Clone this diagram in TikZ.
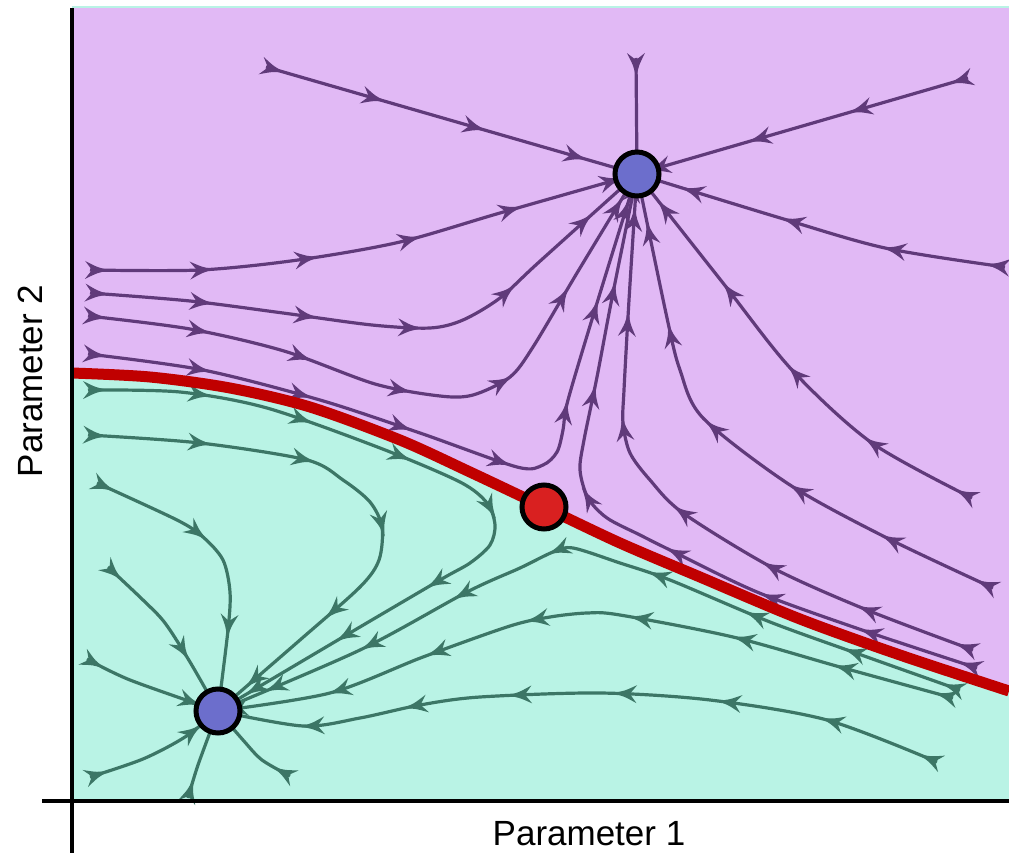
\documentclass[tikz,border=0pt]{standalone}
\usepackage{fontspec}
\setmainfont{Liberation Sans}
\usetikzlibrary{decorations.markings}
\definecolor{purplebg}{RGB}{225,185,245}
\definecolor{tealbg}{RGB}{185,243,229}
\definecolor{purpleline}{RGB}{96,58,122}
\definecolor{tealline}{RGB}{60,118,102}
\definecolor{sepred}{RGB}{192,0,0}
\definecolor{nodeblue}{RGB}{108,110,204}
\definecolor{saddlered}{RGB}{217,32,32}
\newcommand{\flowhead}[1]{\fill[#1] (13pt,0pt) .. controls (1pt,2.5pt) .. (-12pt,9pt) -- (-5pt,0pt) -- (-12pt,-9pt) .. controls (1pt,-2.5pt) .. (13pt,0pt) -- cycle;}
\tikzset{
  flowp/.style={draw=purpleline, line width=3.2pt, postaction={decorate},
    decoration={markings, mark=between positions 7pt and -1pt step 105pt with {\flowhead{purpleline}}}},
  flowt/.style={draw=tealline, line width=3.2pt, postaction={decorate},
    decoration={markings, mark=between positions 7pt and -1pt step 105pt with {\flowhead{tealline}}}},
  fixpt/.style={circle, draw=black, line width=5pt, minimum size=44pt, inner sep=0pt, fill=nodeblue},
  saddlept/.style={circle, draw=black, line width=5pt, minimum size=44pt, inner sep=0pt, fill=saddlered},
  axisline/.style={draw=black, line width=4.5pt},
  axlabel/.style={font=\fontsize{35}{42}\selectfont, inner sep=0pt}
}
\begin{document}
\begin{tikzpicture}[x=1pt,y=-1pt]
\useasboundingbox (0,0) rectangle (1009,853);
\fill[white] (0,0) rectangle (1009,853);
% backgrounds
\fill[tealbg] (72,6) rectangle (1009,801);
\fill[purplebg] (72,8.5) rectangle (1009,801);
\fill[tealbg] plot[smooth] coordinates {(72,373) (150,377) (230,388) (310,407) (400,440) (470,472) (544,507) (620,543) (700,577) (800,619) (900,655) (1009,691)} -- (1009,801) -- (72,801) -- cycle;
% fixed points
\coordinate (ctop) at (637,174);
\coordinate (cbl) at (218,711);
\coordinate (csad) at (544,507);
% purple streamlines
\path[flowp] (266,67) -- (ctop);
\path[flowp] (636,58) -- (ctop);
\path[flowp] (968,78) -- (ctop);
\path[flowp] plot[smooth] coordinates {(1005,267) (885,248) (777,217) (ctop)};
\path[flowp] plot[smooth] coordinates {(972,498) (872,443) (792,370) (723,283) (ctop)};
\path[flowp] plot[smooth] coordinates {(993,588) (887,538) (790,485) (703,418) (680,370) (667,318) (ctop)};
\path[flowp] plot[smooth] coordinates {(973,650) (867,610) (773,568) (683,513) (650,480) (630,453) (623,423) (624,390) (629,300) (ctop)};
\path[flowp] plot[smooth] coordinates {(977,668) (862,630) (757,592) (670,550) (640,535) (607,518) (588,498) (580,470) (584,440) (597,377) (612,298) (ctop)};
\path[flowp] plot[smooth] coordinates {(88,354) (203,370) (320,400) (420,433) (517,467) (543,465) (557,452) (563,430) (568,400) (597,303) (ctop)};
\path[flowp] plot[smooth] coordinates {(88,316) (190,329) (284,351) (375,384) (440,396) (473,395) (510,377) (533,347) (577,273) (ctop)};
\path[flowp] plot[smooth] coordinates {(90,293) (190,301) (283,313) (372,325) (430,328) (463,320) (500,298) (538,263) (ctop)};
\path[flowp] plot[smooth] coordinates {(90,270) (200,270) (298,260) (400,242) (500,213) (ctop)};
% teal streamlines
\path[flowt] plot[smooth] coordinates {(88,390) (180,392) (267,408) (380,448) (460,482) (487,503) (495,525) (490,545) (470,563) (440,580) (343,637) (cbl)};
\path[flowt] plot[smooth] coordinates {(88,435) (200,443) (307,460) (343,480) (370,502) (382,527) (379,560) (360,587) (300,640) (cbl)};
\path[flowt] plot[smooth] coordinates {(97,483) (177,520) (203,537) (223,560) (230,592) (228,630) (cbl)};
\path[flowt] plot[smooth] coordinates {(108,567) (143,600) (165,623) (190,662) (cbl)};
\path[flowt] plot[smooth] coordinates {(87,659) (130,680) (cbl)};
\path[flowt] plot[smooth] coordinates {(90,777) (143,759) (185,737) (cbl)};
\path[flowt] plot[smooth] coordinates {(188,798) (198,765) (cbl)};
\path[flowt] plot[smooth] coordinates {(290,776) (262,760) (243,740) (cbl)};
\path[flowt] plot[smooth] coordinates {(960,690) (867,657) (770,622) (670,580) (620,563) (573,548) (553,552) (520,568) (467,592) (360,650) (cbl)};
\path[flowt] plot[smooth] coordinates {(953,698) (840,667) (733,637) (620,615) (587,613) (550,617) (510,626) (423,657) (330,693) (cbl)};
\path[flowt] plot[smooth] coordinates {(937,762) (827,720) (710,700) (600,693) (480,697) (420,705) (360,718) (303,726) (cbl)};
% separatrix
\draw[sepred, line width=11pt] plot[smooth] coordinates {(72,373) (150,377) (230,388) (310,407) (400,440) (470,472) (544,507) (620,543) (700,577) (800,619) (900,655) (1009,691)};
% axes
\draw[axisline] (72,8) -- (72,853);
\draw[axisline] (42,801) -- (1009,801);
% nodes
\node[fixpt] (top) at (ctop) {};
\node[fixpt] (bl) at (cbl) {};
\node[saddlept] (sad) at (csad) {};
% labels
\node[axlabel] (xlab) at (589,834) {Parameter 1};
\node[axlabel, rotate=90] (ylab) at (30,381) {Parameter 2};
\end{tikzpicture}
\end{document}
